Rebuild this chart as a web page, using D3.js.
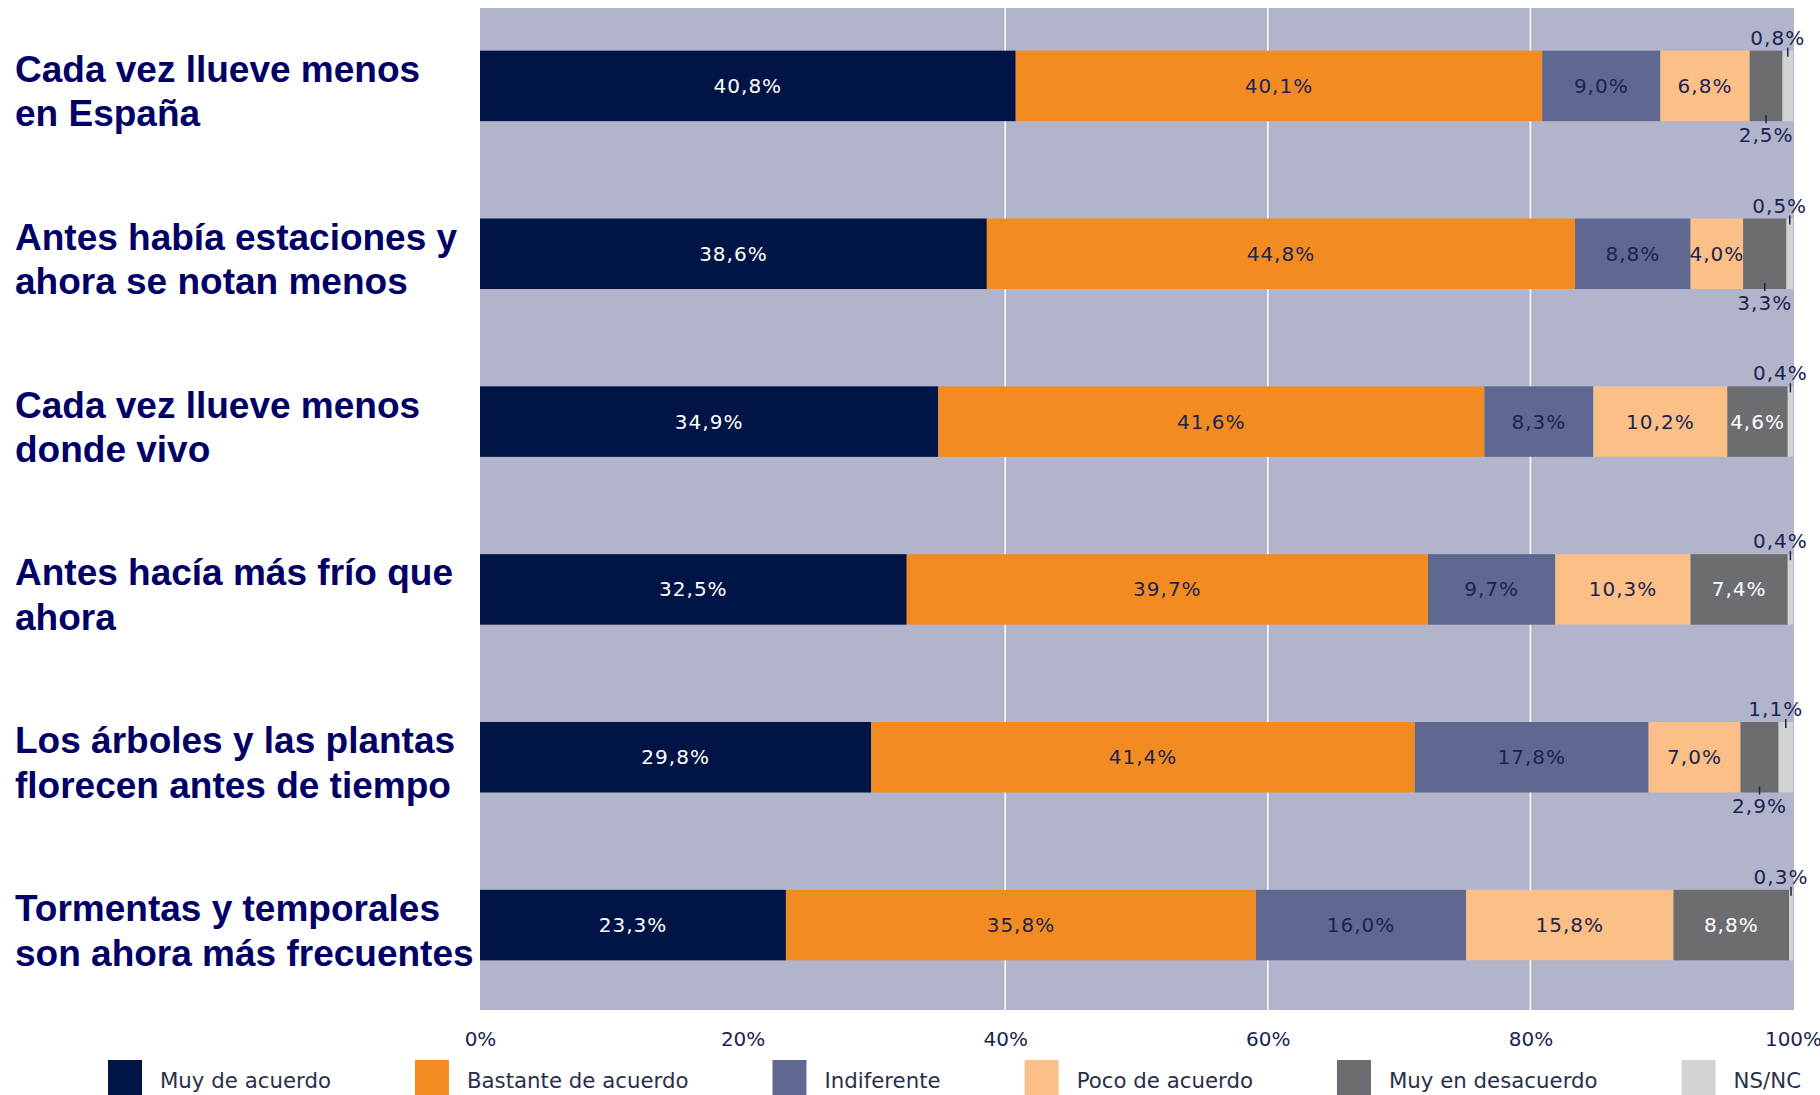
<!DOCTYPE html>
<html>
<head>
<meta charset="utf-8">
<script src="https://cdn.jsdelivr.net/npm/d3@7/dist/d3.min.js"></script>
<style>
  body { margin: 0; background: #fff; }
  svg { display: block; }
</style>
</head>
<body>
<div id="chartCont"></div>
<script>
// categories (one per bar, top to bottom), lines split with "|"
var categories = [
    'Cada vez llueve menos|en España',
    'Antes había estaciones y|ahora se notan menos',
    'Cada vez llueve menos|donde vivo',
    'Antes hacía más frío que|ahora',
    'Los árboles y las plantas|florecen antes de tiempo',
    'Tormentas y temporales|son ahora más frecuentes'
];

var seriesNames = ['Muy de acuerdo', 'Bastante de acuerdo', 'Indiferente', 'Poco de acuerdo', 'Muy en desacuerdo', 'NS/NC'];

var muyDeAcuerdo      = [40.8, 38.6, 34.9, 32.5, 29.8, 23.3];
var bastanteDeAcuerdo = [40.1, 44.8, 41.6, 39.7, 41.4, 35.8];
var indiferente       = [9.0, 8.8, 8.3, 9.7, 17.8, 16.0];
var pocoDeAcuerdo     = [6.8, 4.0, 10.2, 10.3, 7.0, 15.8];
var muyEnDesacuerdo   = [2.5, 3.3, 4.6, 7.4, 2.9, 8.8];
var nsnc              = [0.8, 0.5, 0.4, 0.4, 1.1, 0.3];

var tickValues = [0, 20, 40, 60, 80, 100];
var gridValues = [40, 60, 80];

var colors = ['#001446', '#f28c22', '#5f6890', '#fbbf87', '#6c6d70', '#d2d3d5'];
var labelColors = ['#ffffff', '#1b2450', '#1b2450', '#1b2450', '#ffffff', '#1b2450'];

var svgSize = {
    width: 1820,
    height: 1095,
    plot: {left: 480, right: 1794, top: 8, bottom: 1010}
};

var series = [muyDeAcuerdo, bastanteDeAcuerdo, indiferente, pocoDeAcuerdo, muyEnDesacuerdo, nsnc];

function fmt(v) {
    return v.toFixed(1).replace('.', ',') + '%';
}

var svg = d3.select('#chartCont').append('svg')
    .attr('width', svgSize.width)
    .attr('height', svgSize.height);

var x = d3.scaleLinear()
    .domain([0, 100])
    .range([480, 1793]);

var y = d3.scaleBand()
    .domain(d3.range(categories.length))
    .range([2, 1009])
    .paddingInner(0.58)
    .paddingOuter(0.29);

// plot background
svg.append('rect')
    .attr('x', svgSize.plot.left)
    .attr('y', svgSize.plot.top)
    .attr('width', svgSize.plot.right - svgSize.plot.left)
    .attr('height', svgSize.plot.bottom - svgSize.plot.top)
    .attr('fill', '#b2b4cc');

svg.append('g').selectAll('line')
    .data(gridValues)
    .enter().append('line')
    .attr('x1', function(d) { return x(d); })
    .attr('x2', function(d) { return x(d); })
    .attr('y1', svgSize.plot.top)
    .attr('y2', svgSize.plot.bottom)
    .attr('stroke', '#ffffff')
    .attr('stroke-width', 1.5);

// x axis (tick labels only)
var xAxis = svg.append('g')
    .attr('transform', 'translate(0,1046)')
    .call(d3.axisBottom(x).tickValues(tickValues).tickSize(0).tickPadding(0).tickFormat(function(d) { return d + '%'; }));
xAxis.select('.domain').remove();
xAxis.selectAll('text')
    .attr('dy', 0)
    .attr('y', 0)
    .attr('fill', '#1b2450')
    .style('font-family', '"DejaVu Sans", sans-serif')
    .style('font-size', '20px');

// stacked data
var stackData = categories.map(function(c, i) {
    var o = {i: i};
    seriesNames.forEach(function(s, k) { o[s] = series[k][i]; });
    return o;
});
var stacked = d3.stack().keys(seriesNames)(stackData);

var bars = svg.append('g').attr('id', 'bars');
stacked.forEach(function(layer, k) {
    bars.append('g').selectAll('rect')
        .data(layer)
        .enter().append('rect')
        .attr('x', function(d) { return x(d[0]); })
        .attr('width', function(d) { return x(d[1]) - x(d[0]); })
        .attr('y', function(d) { return y(d.data.i); })
        .attr('height', y.bandwidth())
        .attr('fill', colors[k]);
});

// value labels
var labels = svg.append('g').attr('id', 'labels')
    .style('font-family', '"DejaVu Sans", sans-serif')
    .style('font-size', '20px')
    .style('letter-spacing', '1px');

stacked.forEach(function(layer, k) {
    layer.forEach(function(d) {
        var v = d[1] - d[0];
        var cx = (x(d[0]) + x(d[1])) / 2;
        var top = y(d.data.i);
        var bottom = top + y.bandwidth();
        var inside = k < 4 || (k === 4 && v >= 4);
        if (inside) {
            labels.append('text')
                .attr('x', cx)
                .attr('y', top + y.bandwidth() / 2 + 7)
                .attr('text-anchor', 'middle')
                .attr('fill', labelColors[k])
                .text(fmt(v));
        } else if (k === 4) {
            labels.append('line')
                .attr('x1', cx).attr('x2', cx)
                .attr('y1', bottom - 6).attr('y2', bottom + 2)
                .attr('stroke', '#1b2450').attr('stroke-width', 1.5);
            labels.append('text')
                .attr('x', cx)
                .attr('y', bottom + 21)
                .attr('text-anchor', 'middle')
                .attr('fill', '#1b2450')
                .text(fmt(v));
        } else {
            labels.append('line')
                .attr('x1', cx).attr('x2', cx)
                .attr('y1', top - 3).attr('y2', top + 6)
                .attr('stroke', '#1b2450').attr('stroke-width', 1.5);
            labels.append('text')
                .attr('x', cx - 10)
                .attr('y', top - 6)
                .attr('text-anchor', 'middle')
                .attr('fill', '#1b2450')
                .text(fmt(v));
        }
    });
});

// category labels
var cats = svg.append('g').attr('id', 'cats')
    .style('font-family', '"Liberation Sans", Arial, sans-serif')
    .style('font-weight', 'bold')
    .style('font-size', '37px')
    .attr('fill', '#000066');

categories.forEach(function(c, i) {
    var lines = c.split('|');
    var cy = y(i) + y.bandwidth() / 2;
    var t = cats.append('text').attr('x', 15);
    lines.forEach(function(l, j) {
        t.append('tspan')
            .attr('x', 15)
            .attr('y', cy - 4 + j * 44.5)
            .text(l);
    });
});

// legend
var legend = svg.append('g').attr('id', 'legend')
    .style('font-family', '"DejaVu Sans", sans-serif')
    .style('font-size', '21.3px');
var lx = 108;
seriesNames.forEach(function(s, k) {
    var g = legend.append('g').attr('transform', 'translate(' + lx + ',0)');
    g.append('rect')
        .attr('x', 0).attr('y', 1060)
        .attr('width', 34).attr('height', 40)
        .attr('fill', colors[k]);
    var t = g.append('text')
        .attr('x', 52).attr('y', 1088)
        .attr('fill', '#2a2f4a')
        .text(s);
    lx += 52 + t.node().getComputedTextLength() + 84;
});
</script>
</body>
</html>
